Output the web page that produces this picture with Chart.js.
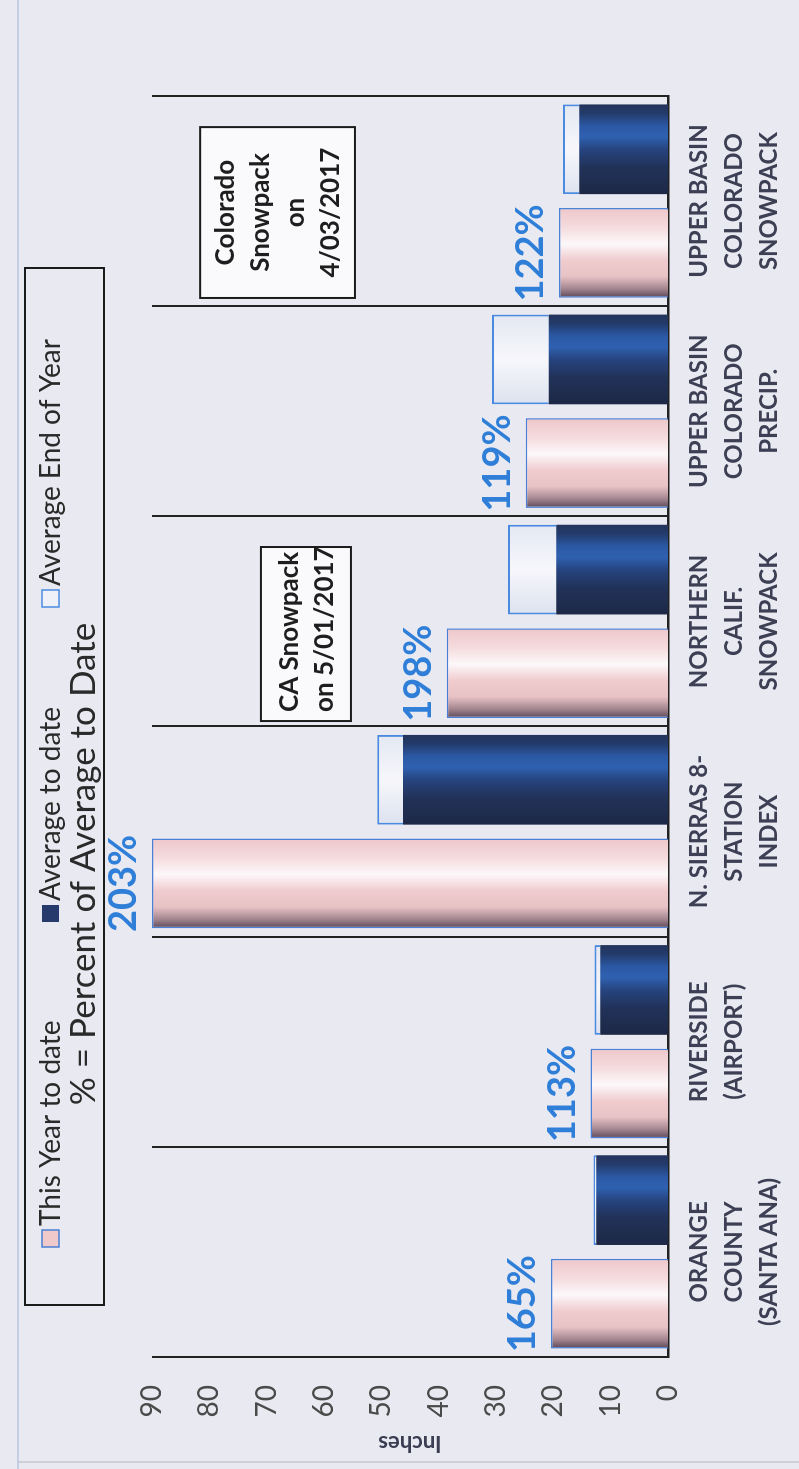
<!DOCTYPE html>
<html>
<head>
<meta charset="utf-8">
<script src="https://cdn.jsdelivr.net/npm/chart.js@4.4.1/dist/chart.umd.min.js"></script>
<style>
html,body{margin:0;padding:0;background:#e9e9f2;overflow:hidden;width:799px;height:1469px;}
#wrap{position:absolute;left:0;top:0;width:1469px;height:799px;transform-origin:0 0;transform:translate(0px,1469px) rotate(-90deg);}
canvas{display:block;}
</style>
</head>
<body>
<div id="wrap"><canvas id="c" width="1469" height="799"></canvas></div>
<script>
// ---------------- data ----------------
const categories = [
  ["ORANGE", "COUNTY", "(SANTA ANA)"],
  ["RIVERSIDE", "(AIRPORT)"],
  ["N. SIERRAS 8-", "STATION", "INDEX"],
  ["NORTHERN", "CALIF.", "SNOWPACK"],
  ["UPPER BASIN", "COLORADO", "PRECIP."],
  ["UPPER BASIN", "COLORADO", "SNOWPACK"]
];
const thisYearToDate   = [20.4, 13.5, 90.0, 38.6, 24.8, 19.0];
const averageToDate    = [12.5, 11.8, 46.2, 19.5, 20.8, 15.5];
const averageEndOfYear = [13.0, 12.8, 50.7, 27.9, 30.7, 18.3];
const percentLabels    = ["165%", "113%", "203%", "198%", "119%", "122%"];
const seriesNames      = ["This Year to date", "Average to date", "Average End of Year"];
const subtitleText     = "% = Percent of Average to Date";
const axisTitle        = "Inches";
const yMin = 0, yMax = 90, yStep = 10;
const noteCA = ["CA Snowpack", "on 5/01/2017"];
const noteCO = ["Colorado", "Snowpack", "on", "4/03/2017"];

// ---------------- styling ----------------
const FONT = 'Lato, "Open Sans", sans-serif';
Chart.defaults.font.family = FONT;

const pinkStops = [[0,'#5b4758'],[0.1,'#a3858f'],[0.24,'#e8c3c6'],[0.42,'#f0cccf'],[0.6,'#fcf8fa'],[0.78,'#f5dcde'],[1,'#eec7ca']];
const navyStops = [[0,'#1d2846'],[0.3,'#213259'],[0.5,'#26447f'],[0.64,'#2f61b1'],[0.76,'#2b58a4'],[0.9,'#233b6b'],[1,'#24345b']];
const lightStops = [[0,'#dce2ef'],[0.5,'#f7f7fb'],[1,'#e3e8f2']];

function grad(stops){
  return (c) => {
    const el = c.element;
    if (c.type !== 'data' || !el || !isFinite(el.x) || !isFinite(el.width)) return stops[Math.floor(stops.length/2)][1];
    const g = c.chart.ctx.createLinearGradient(el.x - el.width/2, 0, el.x + el.width/2, 0);
    stops.forEach(s => g.addColorStop(s[0], s[1]));
    return g;
  };
}

const extraToEndOfYear = averageEndOfYear.map((v, i) => v - averageToDate[i]);

const legendItemStarts = [222, 547, 862];

const decor = {
  id: 'decor',
  beforeDraw(chart){
    const ctx = chart.ctx;
    ctx.save();
    ctx.strokeStyle = '#b7c5e3'; ctx.lineWidth = 1.5;
    ctx.beginPath(); ctx.moveTo(0, 18); ctx.lineTo(1469, 18); ctx.stroke();
    ctx.strokeStyle = '#c6c6ce';
    ctx.beginPath(); ctx.moveTo(7, 18); ctx.lineTo(7, 799); ctx.stroke();
    ctx.restore();
  },
  afterDatasetsDraw(chart){
    const ctx = chart.ctx;
    const meta = chart.getDatasetMeta(0);
    ctx.save();
    ctx.font = 'bold 38px ' + FONT;
    ctx.fillStyle = '#2f7fd8';
    ctx.textAlign = 'center';
    ctx.textBaseline = 'alphabetic';
    meta.data.forEach((bar, i) => ctx.fillText(percentLabels[i], bar.x, bar.y - 16));
    ctx.restore();
  },
  afterDraw(chart){
    const ctx = chart.ctx;
    ctx.save();
    // legend box
    const L = {left: 164, top: 25, right: 1201, bottom: 104};
    ctx.lineWidth = 2; ctx.strokeStyle = '#1b1b1b';
    ctx.strokeRect(L.left, L.top, L.right - L.left, L.bottom - L.top);
    ctx.font = '28px ' + FONT; ctx.textBaseline = 'middle'; ctx.textAlign = 'left';
    const swatches = [
      {fill: '#f0c9cb', stroke: '#4a7fd4'},
      {fill: '#263b6c', stroke: null},
      {fill: '#eef1f8', stroke: '#4a8ae0'}
    ];
    const vMid = 51;
    seriesNames.forEach((name, i) => {
      const s = swatches[i];
      const u = legendItemStarts[i];
      ctx.fillStyle = s.fill; ctx.fillRect(u, vMid - 9, 17, 17);
      if (s.stroke){ ctx.strokeStyle = s.stroke; ctx.lineWidth = 1.5; ctx.strokeRect(u, vMid - 9, 17, 17); }
      ctx.fillStyle = '#2a2a2a';
      ctx.fillText(name, u + 21, vMid);
    });
    ctx.font = '35px ' + FONT;
    ctx.textAlign = 'center';
    ctx.fillText(subtitleText, 605, 84);

    // notes
    const xs = chart.scales.x, ys = chart.scales.y;
    function note(lines, x0, x1, v0, v1, align, lh){
      const l = xs.getPixelForValue(x0), r = xs.getPixelForValue(x1);
      const t = ys.getPixelForValue(v0), b = ys.getPixelForValue(v1);
      ctx.fillStyle = '#fafafc'; ctx.fillRect(l, t, r - l, b - t);
      ctx.lineWidth = 2; ctx.strokeStyle = '#1b1b1b'; ctx.strokeRect(l, t, r - l, b - t);
      ctx.font = 'bold 26px ' + FONT; ctx.fillStyle = '#1e1e1e'; ctx.textBaseline = 'middle';
      ctx.textAlign = align;
      const cx = align === 'left' ? l + 9 : (l + r) / 2;
      const cy = (t + b) / 2 - (lines.length - 1) * lh / 2;
      lines.forEach((s, i) => ctx.fillText(s, cx, cy + i * lh + 1));
    }
    note(noteCA, 2.526, 3.354, 71.0, 55.3, 'left', 35);
    note(noteCO, 4.539, 5.352, 81.6, 54.6, 'center', 35);
    ctx.restore();
  }
};

const chart = new Chart(document.getElementById('c'), {
  type: 'bar',
  data: {
    labels: categories,
    datasets: [
      {label: seriesNames[0], data: thisYearToDate, stack: 'ty',
       backgroundColor: grad(pinkStops), borderColor: '#4a7fd4', borderWidth: 1.5, borderSkipped: 'start'},
      {label: seriesNames[1], data: averageToDate, stack: 'avg',
       backgroundColor: grad(navyStops), borderWidth: 0},
      {label: seriesNames[2], data: extraToEndOfYear, stack: 'avg',
       backgroundColor: grad(lightStops), borderColor: '#4a8ae0', borderWidth: 2, borderSkipped: 'start'}
    ]
  },
  options: {
    responsive: false,
    animation: false,
    devicePixelRatio: 1,
    events: [],
    layout: {padding: {left: 0, top: 152, right: 96, bottom: 0}},
    plugins: {legend: {display: false}, title: {display: false}, tooltip: {enabled: false}},
    datasets: {bar: {categoryPercentage: 0.986, barPercentage: 0.866}},
    scales: {
      x: {
        stacked: true,
        grid: {display: true, offset: true, color: '#222', lineWidth: 2, drawTicks: false},
        border: {display: true, color: '#222', width: 2.5},
        ticks: {autoSkip: false, maxRotation: 0, minRotation: 0, padding: 14, color: '#3d4054',
                font: {size: 24, weight: 'bold', lineHeight: 1.46}},
        afterFit(scale){ scale.height = 131; }
      },
      y: {
        stacked: true, min: yMin, max: yMax,
        grid: {display: false, drawTicks: false},
        border: {display: false},
        ticks: {stepSize: yStep, padding: 28, color: '#4a4a4a', font: {size: 28}},
        title: {display: true, text: axisTitle, color: '#3b3e52', font: {size: 22, weight: 'bold'}, padding: {top: 13, bottom: 0}},
        afterFit(scale){ scale.width = 112; }
      }
    }
  },
  plugins: [decor]
});
chart.update('none');
</script>
</body>
</html>
